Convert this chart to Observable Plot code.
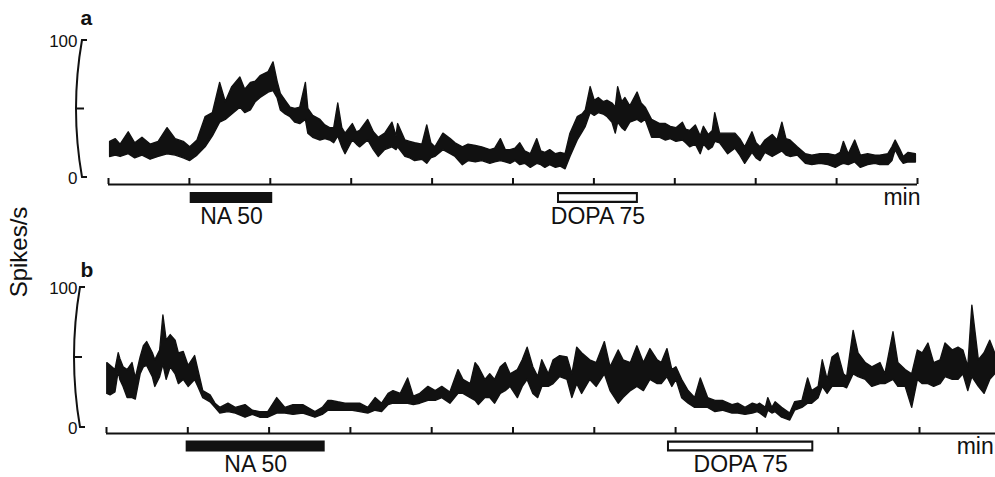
<!DOCTYPE html>
<html><head><meta charset="utf-8">
<script src="https://cdn.jsdelivr.net/npm/d3@7"></script>
<script src="https://cdn.jsdelivr.net/npm/@observablehq/plot@0.6"></script>
<style>
html,body{margin:0;padding:0;background:#fff;}
#wrap{position:relative;width:995px;height:477px;overflow:hidden;font-family:"Liberation Sans",Arial,sans-serif;}
#wrap svg{position:absolute;left:0;display:block;}
#ylab{position:absolute;width:120px;height:30px;line-height:30px;text-align:center;font-size:24px;color:#111;
  left:-41px;top:237px;transform:rotate(-90deg);white-space:nowrap;}
</style></head><body><div id="wrap"><div id="ylab">Spikes/s</div></div>
<script>
// ---------- data (time in min, rate in spikes/s) ----------
const xTicks = [0,1,2,3,4,5,6,7,8,9,10];
const yTicks = [0, 50, 100];
const yTickLabels = ["0", "", "100"];
const drugLabels = ["NA 50", "DOPA 75"];
const drugFilled = [true, false];
const drugStartA = [1.01, 5.55], drugEndA = [2.03, 6.55];
const drugStartB = [0.98, 6.90], drugEndB = [2.69, 8.70];
const axisEndA = 10, axisEndB = 10.95;

// panel a: lower / upper envelope of the rate trace
const tA = [0.02,0.09,0.15,0.25,0.33,0.42,0.52,0.62,0.73,0.83,
  0.93,1.01,1.10,1.20,1.29,1.38,1.45,1.53,1.63,1.69,
  1.76,1.82,1.88,1.98,2.04,2.09,2.13,2.19,2.25,2.31,
  2.37,2.44,2.47,2.53,2.62,2.68,2.74,2.79,2.84,2.89,
  2.93,3.02,3.07,3.11,3.21,3.28,3.34,3.42,3.51,3.56,
  3.58,3.67,3.73,3.79,3.88,3.94,3.99,4.04,4.14,4.23,
  4.29,4.38,4.45,4.54,4.62,4.72,4.78,4.85,4.91,4.97,
  5.03,5.09,5.15,5.22,5.30,5.35,5.40,5.46,5.53,5.59,
  5.65,5.71,5.80,5.86,5.90,5.96,6.01,6.06,6.12,6.17,
  6.23,6.27,6.30,6.35,6.39,6.45,6.54,6.59,6.64,6.72,
  6.82,6.89,6.95,7.02,7.10,7.14,7.19,7.26,7.32,7.36,
  7.42,7.47,7.50,7.56,7.66,7.75,7.81,7.87,7.96,8.01,
  8.06,8.12,8.21,8.27,8.33,8.38,8.43,8.52,8.62,8.70,
  8.80,8.90,8.99,9.05,9.09,9.15,9.23,9.30,9.39,9.48,
  9.54,9.64,9.69,9.73,9.79,9.83,9.89,9.98];
const loA = [15,16,15,17,14,16,13,15,17,16,
  14,12,16,22,30,40,42,46,51,47,
  49,55,58,62,63,58,49,46,44,40,
  39,42,32,29,27,28,27,25,30,22,
  17,27,24,22,27,20,15,20,22,20,
  22,15,14,12,13,10,14,15,20,17,
  15,9,12,11,12,10,11,12,11,10,
  12,9,10,7,10,9,7,9,7,8,
  6,15,27,33,37,47,45,47,46,44,
  40,32,40,36,34,40,42,40,42,29,
  29,27,28,26,27,25,22,24,17,24,
  20,22,26,25,17,21,16,10,18,14,
  12,18,15,17,19,16,15,16,10,9,
  10,9,7,9,10,9,11,7,9,10,
  9,9,12,20,13,10,11,11];
const hiA = [26,28,24,33,25,29,24,26,36,28,
  26,22,27,44,47,69,55,66,73,64,
  69,70,74,77,84,70,61,56,51,50,
  51,69,50,45,42,38,36,36,54,36,
  32,39,33,34,42,33,29,32,40,30,
  39,27,26,25,24,38,25,22,32,28,
  25,22,24,23,22,20,21,28,20,20,
  21,25,19,17,28,19,18,20,17,18,
  17,32,44,46,49,66,56,58,55,56,
  54,51,66,55,58,52,62,54,51,42,
  39,39,37,36,40,35,34,38,30,37,
  31,34,47,32,32,32,28,22,33,25,
  22,27,31,27,40,28,27,22,17,16,
  17,17,16,18,26,17,27,16,17,16,
  16,17,22,27,20,15,18,17];

// panel b
const tB = [0.01,0.05,0.11,0.15,0.17,0.21,0.26,0.32,0.36,0.42,
  0.46,0.50,0.57,0.60,0.66,0.70,0.74,0.79,0.85,0.89,
  0.95,1.01,1.09,1.13,1.19,1.28,1.34,1.40,1.50,1.59,
  1.71,1.80,1.89,1.99,2.10,2.20,2.30,2.42,2.57,2.66,
  2.73,2.77,2.85,2.94,3.03,3.12,3.22,3.31,3.39,3.47,
  3.53,3.62,3.71,3.78,3.86,3.96,4.05,4.13,4.23,4.33,
  4.39,4.48,4.54,4.58,4.66,4.72,4.78,4.85,4.91,4.97,
  5.06,5.12,5.18,5.25,5.31,5.36,5.44,5.50,5.58,5.67,
  5.73,5.79,5.85,5.95,6.03,6.13,6.20,6.30,6.36,6.45,
  6.53,6.61,6.69,6.78,6.83,6.90,6.96,7.01,7.08,7.16,
  7.24,7.31,7.40,7.49,7.58,7.70,7.77,7.86,7.95,8.01,
  8.04,8.11,8.14,8.19,8.23,8.31,8.41,8.47,8.56,8.63,
  8.68,8.76,8.81,8.87,8.93,9.00,9.07,9.11,9.19,9.25,
  9.34,9.42,9.52,9.58,9.68,9.74,9.83,9.91,9.98,10.04,
  10.11,10.18,10.26,10.32,10.41,10.48,10.54,10.60,10.65,10.73,
  10.80,10.87,10.93];
const loB = [24,23,25,40,34,29,21,21,20,38,
  43,44,36,29,36,45,34,43,38,31,
  34,29,34,29,21,18,14,10,11,10,
  7,9,7,7,10,10,9,10,7,9,
  12,12,12,12,12,11,10,12,11,16,
  17,17,17,16,17,19,19,21,17,24,
  24,21,19,16,21,21,17,24,26,29,
  21,29,34,24,21,29,29,31,36,34,
  21,31,24,34,29,38,26,17,21,26,
  29,26,34,31,31,36,29,34,21,17,
  14,14,14,11,12,10,10,9,10,11,
  10,7,12,10,11,7,5,12,14,17,
  17,21,29,24,29,29,29,28,38,36,
  34,29,31,31,34,29,29,14,34,31,
  31,29,31,36,34,34,38,26,36,29,
  24,34,38];
const hiB = [46,44,41,53,49,43,41,46,35,50,
  58,61,53,48,55,80,62,66,62,53,
  54,44,51,41,26,23,17,14,17,14,
  16,12,11,11,21,14,16,16,11,14,
  19,19,18,17,17,17,14,21,17,24,
  26,24,35,22,24,29,26,29,25,41,
  34,31,46,43,34,38,34,43,46,38,
  41,48,57,43,36,48,38,48,51,50,
  38,57,53,48,46,61,43,55,48,46,
  58,46,56,48,46,56,41,43,34,26,
  21,35,21,19,19,16,17,14,17,16,
  17,14,21,14,18,14,10,18,19,35,
  26,29,48,34,50,53,38,36,69,53,
  46,43,46,38,68,46,41,38,55,53,
  60,46,48,60,55,57,55,43,87,48,
  53,62,53];

// ---------- drawing ----------
const FONT = '"Liberation Sans", Arial, Helvetica, sans-serif';
const INK = "#111";

function panel(o) {
  const trace = o.t.map((d, i) => ({t: d, lo: o.lo[i], hi: o.hi[i]}));
  const drugs = drugLabels.map((l, i) => ({label: l, start: o.starts[i], end: o.ends[i],
    filled: drugFilled[i], mid: (o.starts[i] + o.ends[i]) / 2}));
  const yt = yTicks.map((v, i) => ({v, label: yTickLabels[i]}));
  const chart = Plot.plot({
    width: 995, height: o.height,
    marginTop: o.mt, marginBottom: o.mb, marginLeft: o.ml, marginRight: o.mr,
    x: {domain: [0, 10], axis: null},
    y: {domain: [0, 100], axis: null},
    style: {fontFamily: FONT, background: "transparent", overflow: "visible", color: INK},
    marks: [
      Plot.areaY(trace, {x: "t", y1: "lo", y2: "hi", fill: INK, stroke: INK, strokeWidth: 1.4}),
      Plot.ruleY([0], {x1: 0, x2: o.axisEnd, dy: o.axisDy, stroke: INK, strokeWidth: 2}),
      Plot.ruleX(xTicks, {x: d => d, y1: 0, y2: 0, dy: o.axisDy, insetBottom: 6, stroke: INK, strokeWidth: 2}),
      Plot.ruleY(drugs, {x1: "start", x2: "end", y: 0, dy: o.barDy, stroke: INK, strokeWidth: 11}),
      Plot.ruleY(drugs.filter(d => !d.filled), {x1: "start", x2: "end", y: 0, dy: o.barDy,
        stroke: "white", strokeWidth: 6.5, insetLeft: 2, insetRight: 2}),
      Plot.text(drugs, {x: "mid", y: 0, dy: o.labelDy, text: "label", fontSize: 23, fill: INK}),
      Plot.text(["min"], {x: o.axisEnd, y: 0, dy: o.minDy, dx: o.minDx, textAnchor: "end", fontSize: 23, fill: INK}),
      Plot.text(yt, {y: "v", text: "label", frameAnchor: "left", dx: o.ylabDx, dy: 1, textAnchor: "end", fontSize: 17, fill: INK}),
      Plot.text([o.letter], {frameAnchor: "top-left", dx: o.letterDx, dy: o.letterDy, textAnchor: "start",
        lineAnchor: "bottom", fontSize: 21, fontWeight: "bold", fill: INK})
    ]
  });
  const svg = chart.tagName.toLowerCase() === "svg" ? chart : chart.querySelector("svg");
  // curved y axis bracket drawn through the plot's own scales
  const xs = chart.scale("x"), ys = chart.scale("y");
  const X = xs.apply ? xs.apply : d3.scaleLinear(xs.domain, xs.range);
  const Y = ys.apply ? ys.apply : d3.scaleLinear(ys.domain, ys.range);
  const x0 = X(0) - 26;
  const g = d3.select(svg).append("g").attr("fill", "none").attr("stroke", INK)
    .attr("stroke-width", 2).attr("stroke-linecap", "butt");
  g.append("path").attr("d",
    `M${x0 + 5},${Y(100)}H${x0}Q${x0 - 12},${Y(50)} ${x0},${Y(0)}H${x0 + 5}`);
  g.append("path").attr("d", `M${x0 - 6},${Y(50)}H${x0 + 2}`);
  chart.style.top = o.top + "px";
  return chart;
}

const wrap = document.getElementById("wrap");
wrap.appendChild(panel({t: tA, lo: loA, hi: hiA, starts: drugStartA, ends: drugEndA, axisEnd: axisEndA,
  letter: "a", top: 0, height: 235, mt: 40, mb: 58, ml: 108, mr: 78,
  axisDy: 7, barDy: 20, labelDy: 39, minDy: 20, minDx: 3, ylabDx: -31, letterDx: -28, letterDy: -16}));
wrap.appendChild(panel({t: tB, lo: loB, hi: hiB, starts: drugStartB, ends: drugEndB, axisEnd: axisEndB,
  letter: "b", top: 235, height: 242, mt: 52, mb: 50, ml: 106, mr: 76,
  axisDy: 6, barDy: 18.5, labelDy: 37.5, minDy: 19, minDx: -3, ylabDx: -29, letterDx: -26, letterDy: -11}));
</script></body></html>
